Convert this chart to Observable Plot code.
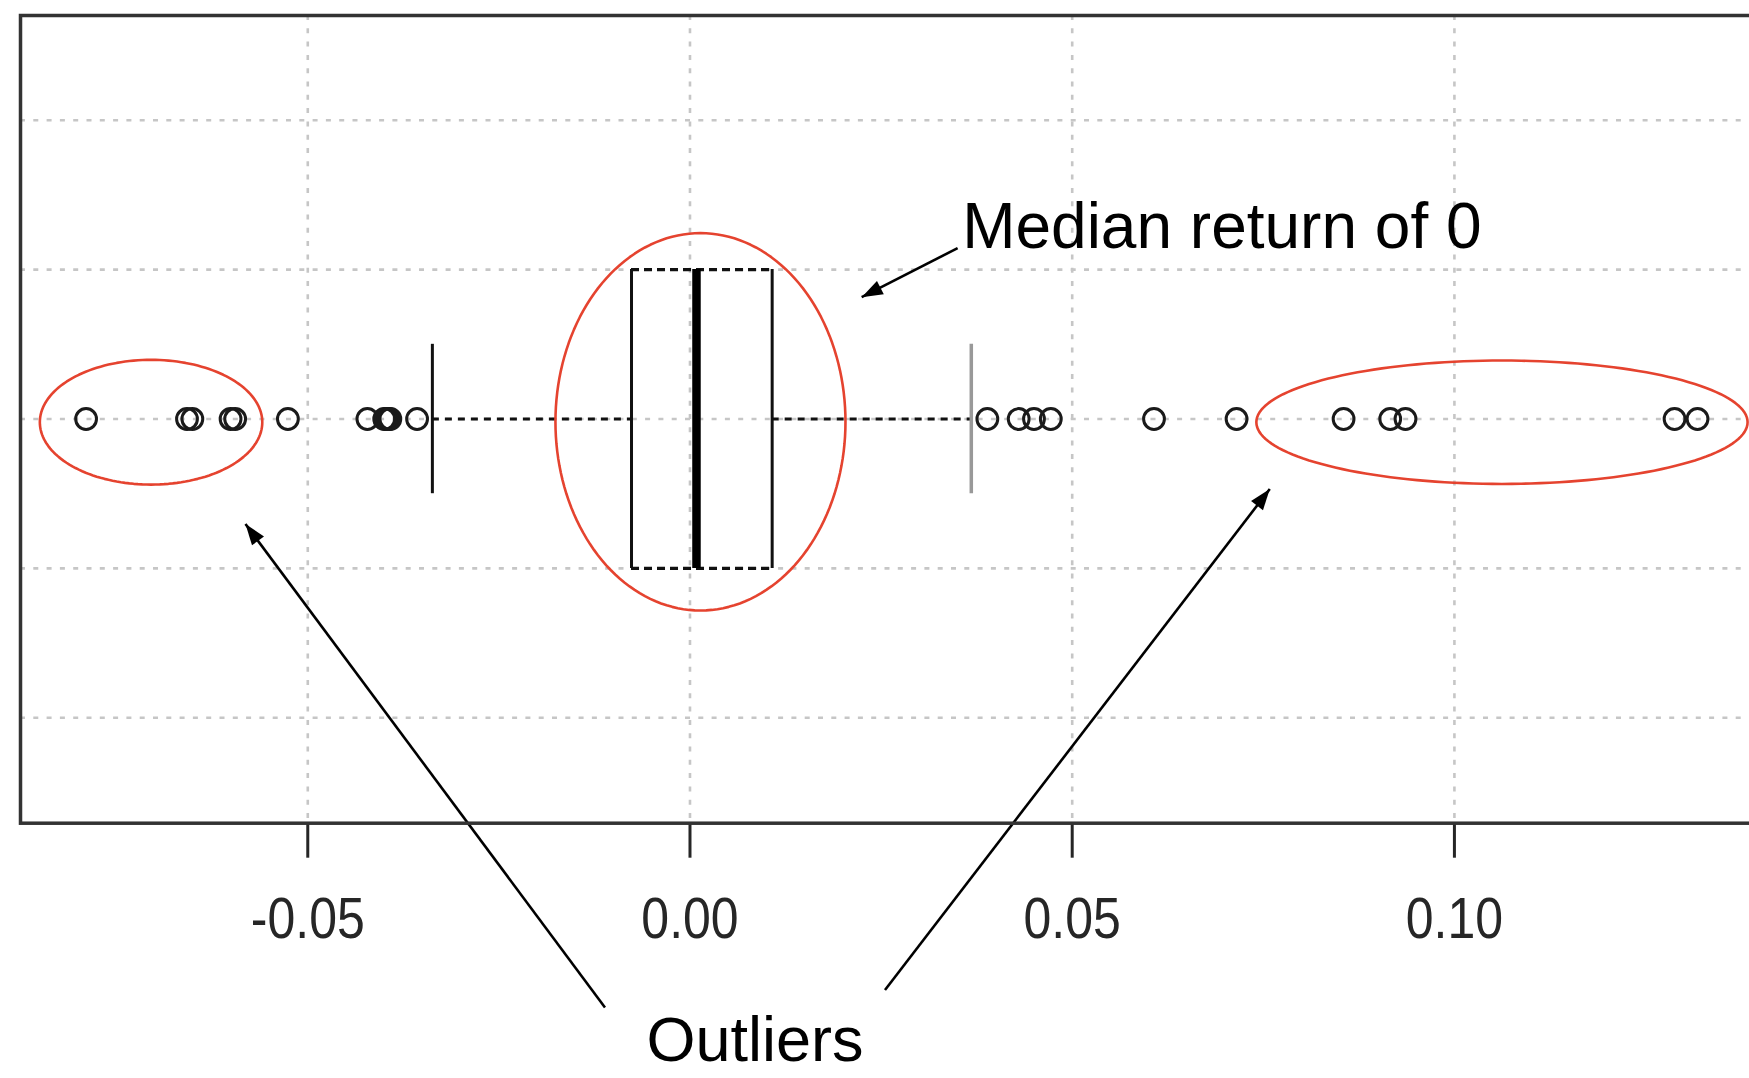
<!DOCTYPE html>
<html><head><meta charset="utf-8">
<script src="https://cdn.jsdelivr.net/npm/d3@7"></script>
<script src="https://cdn.jsdelivr.net/npm/@observablehq/plot@0.6"></script>
<style>
html,body{margin:0;padding:0;background:#fff;overflow:hidden;}
#chart{width:1749px;height:1078px;overflow:hidden;}
#chart svg{max-width:none !important;display:block;}
</style></head><body><div id="chart"></div>
<script>
// ---- data ----
const xTicks = [-0.05, 0, 0.05, 0.10];
const xTickLabels = ["-0.05", "0.00", "0.05", "0.10"];
const yGrid = [0.6, 0.8, 1.0, 1.2, 1.4];
const boxQ1 = -0.00765;
const boxMedian = 0.00085;
const boxQ3 = 0.01075;
const whiskerLow = -0.0337;
const whiskerHigh = 0.0368;
const outliersLow = [-0.0790, -0.0658, -0.0651, -0.0601, -0.0595, -0.0526, -0.0422, -0.0400, -0.0397, -0.0394, -0.0392, -0.0357];
const outliersHigh = [0.0389, 0.0430, 0.0450, 0.0472, 0.0607, 0.0715, 0.0855, 0.0916, 0.0936, 0.1288, 0.1318];

// ---- annotations (in data units) ----
const ellipseCx = [-0.0705, 0.00137, 0.10622];
const ellipseCy = [0.9957, 0.99625, 0.9957];
const ellipseRx = [0.01455, 0.01897, 0.03213];
const ellipseRy = [0.0835, 0.2526, 0.0826];
const arrowX1 = [0.03501, -0.01112, 0.02551];
const arrowY1 = [1.2288, 0.2122, 0.2356];
const arrowX2 = [0.02246, -0.05815, 0.07585];
const arrowY2 = [1.1631, 0.8594, 0.9063];
const labelTexts = ["Median return of 0", "Outliers"];
const labelX = [0.0356, 0.0085];
const labelY = [1.2288, 0.1412];

// ---- layout ----
const boxCenter = 1, boxHalf = 0.2, stapleHalf = 0.1;
const W = 1760, H = 1078;
const base = {
  width: W, height: H,
  marginLeft: 20, marginRight: 0, marginTop: 15, marginBottom: 255.3,
  x: {domain: [-0.08758, 0.14004], axis: null},
  y: {domain: [0.4589, 1.5402], axis: null},
  style: {background: "#fff", fontFamily: "'Liberation Sans', Arial, sans-serif", overflow: "visible", maxWidth: "none"}
};

const probe = Plot.plot({...base, marks: [Plot.frame()]});
const sxD = probe.scale("x"), syD = probe.scale("y");
const sx = sxD.apply ? sxD.apply : d3.scaleLinear(sxD.domain, sxD.range);
const sy = syD.apply ? syD.apply : d3.scaleLinear(syD.domain, syD.range);

const arrows = arrowX1.map((_, i) => {
  const dx = sx(arrowX2[i]) - sx(arrowX1[i]);
  const dy = sy(arrowY2[i]) - sy(arrowY1[i]);
  return {x1: arrowX1[i], y1: arrowY1[i], x2: arrowX2[i], y2: arrowY2[i],
          angle: Math.atan2(dx, -dy) * 180 / Math.PI};
});
const headSymbol = {draw(ctx) { ctx.moveTo(0, 0); ctx.lineTo(-7.5, 21); ctx.lineTo(7.5, 21); ctx.closePath(); }};

const ellipsePts = [];
ellipseCx.forEach((cx, k) => {
  for (let j = 0; j <= 160; j++) {
    const t = j / 160 * 2 * Math.PI;
    ellipsePts.push({id: k, x: cx + ellipseRx[k] * Math.cos(t), y: ellipseCy[k] + ellipseRy[k] * Math.sin(t)});
  }
});

const outliers = outliersLow.concat(outliersHigh);
const gridStyle = {stroke: "#c6c6c6", strokeWidth: 2.6, strokeDasharray: "5,8.3"};

const chart = Plot.plot({
  ...base,
  marks: [
    Plot.ruleY(yGrid, gridStyle),
    Plot.ruleX(xTicks, gridStyle),
    Plot.ruleY([{a: whiskerLow, b: boxQ1}, {a: boxQ3, b: whiskerHigh}],
      {y: () => boxCenter, x1: "a", x2: "b", stroke: "#111", strokeWidth: 2.8, strokeDasharray: "7,6"}),
    Plot.ruleY([boxCenter - boxHalf, boxCenter + boxHalf],
      {x1: boxQ1, x2: boxQ3, stroke: "#111", strokeWidth: 3.2, strokeDasharray: "8,5"}),
    Plot.ruleX([boxQ1, boxQ3], {y1: boxCenter - boxHalf, y2: boxCenter + boxHalf, stroke: "#111", strokeWidth: 3}),
    Plot.ruleX([boxMedian], {y1: boxCenter - boxHalf, y2: boxCenter + boxHalf, stroke: "#000", strokeWidth: 8.5}),
    Plot.ruleX([whiskerLow], {y1: boxCenter - stapleHalf, y2: boxCenter + stapleHalf, stroke: "#111", strokeWidth: 3}),
    Plot.ruleX([whiskerHigh], {y1: boxCenter - stapleHalf, y2: boxCenter + stapleHalf, stroke: "#999", strokeWidth: 3.5}),
    Plot.dot(outliers, {x: d => d, y: () => boxCenter, r: 10.4, stroke: "#1a1a1a", strokeWidth: 3, fill: "none"}),
    Plot.line(ellipsePts, {x: "x", y: "y", z: "id", stroke: "#e5432f", strokeWidth: 2.6}),
    Plot.link(arrows, {x1: "x1", y1: "y1", x2: "x2", y2: "y2", stroke: "#000", strokeWidth: 2.6}),
    Plot.dot(arrows, {x: "x2", y: "y2", symbol: headSymbol, r: 10, fill: "#000", stroke: null, rotate: "angle"}),
    Plot.text([0], {x: () => labelX[0], y: () => labelY[0], text: () => labelTexts[0],
      textAnchor: "start", lineAnchor: "bottom", fontSize: 64, fill: "#000", fontFamily: "'Liberation Sans', Arial, sans-serif"}),
    Plot.text([1], {x: () => labelX[1], y: () => labelY[1], text: () => labelTexts[1],
      textAnchor: "middle", lineAnchor: "bottom", fontSize: 63, fill: "#000", fontFamily: "'Liberation Sans', Arial, sans-serif"}),
    Plot.axisX(xTicks, {tickFormat: d => xTickLabels[xTicks.indexOf(d)], tickSize: 35, tickPadding: 39,
      fontSize: 50, color: "#262626", strokeWidth: 3, label: null,
      fontFamily: "'Liberation Sans', Arial, sans-serif"}),
    Plot.frame({stroke: "#333", strokeWidth: 3.5})
  ]
});
document.getElementById("chart").appendChild(chart);

// stretch the tick labels vertically (the reference uses a tall, narrow face)
chart.querySelectorAll('g[aria-label="x-axis tick label"] text').forEach(t => {
  const tr = t.getAttribute("transform") || "";
  const xa = t.getAttribute("x"), ya = t.getAttribute("y");
  let pre = tr;
  if (xa && !/em/.test(xa) && ya && !/em/.test(ya)) {
    pre = tr + ` translate(${xa},${ya})`;
    t.setAttribute("x", 0); t.setAttribute("y", 0);
  }
  t.setAttribute("transform", (pre + " scale(1,1.15)").trim());
});
</script></body></html>
